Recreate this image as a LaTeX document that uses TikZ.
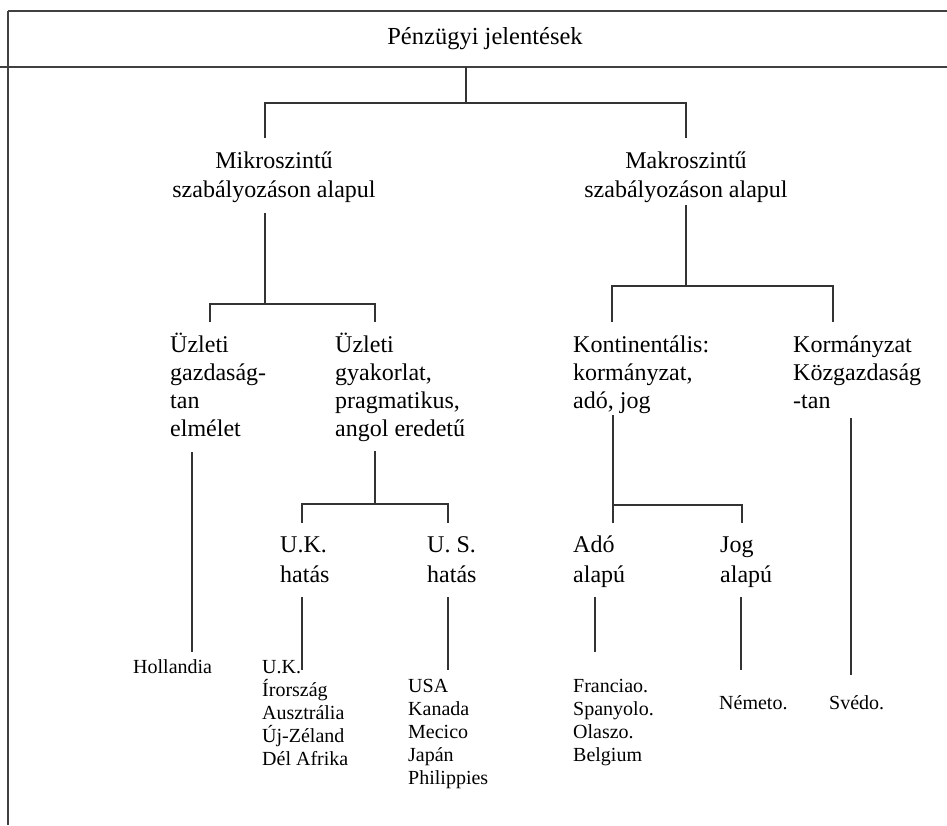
\documentclass[tikz,border=0pt]{standalone}
\usepackage{fontspec}
\setmainfont{Liberation Serif}
\begin{document}
\begin{tikzpicture}[x=1pt,y=-1pt,
  frameline/.style={draw=black!75, line width=1.6pt},
  treeline/.style={draw=black!80, line width=1.1pt},
  headtext/.style={inner sep=0pt, anchor=base, font=\fontsize{24.5}{30}\selectfont},
  midtext/.style={inner sep=0pt, anchor=base, align=center, font=\fontsize{24}{29}\selectfont},
  branchtext/.style={inner sep=0pt, anchor=base west, align=left, font=\fontsize{24}{28}\selectfont},
  effecttext/.style={inner sep=0pt, anchor=base west, align=left, font=\fontsize{24}{30}\selectfont},
  leaftext/.style={inner sep=0pt, anchor=base west, align=left, font=\fontsize{20}{23}\selectfont}]
\useasboundingbox (0,0) rectangle (947,825);

% header band
\draw[frameline] (8,11) -- (947,11);
\draw[frameline] (0,67) -- (947,67);
\draw[frameline] (8,11) -- (8,825);
\node[headtext] (hdr) at (485,44) {Pénzügyi jelentések};

% first level (anchored on the baseline of the last line)
\node[midtext] (mikro) at (274,197) {Mikroszintű\\szabályozáson alapul};
\node[midtext] (makro) at (686,197) {Makroszintű\\szabályozáson alapul};

% second level
\node[branchtext] (uzg)  at (170,436) {Üzleti\\gazdaság-\\tan\\elmélet};
\node[branchtext] (uzp)  at (335,436) {Üzleti\\gyakorlat,\\pragmatikus,\\angol eredetű};
\node[branchtext] (kont) at (573,408) {Kontinentális:\\kormányzat,\\adó, jog};
\node[branchtext] (korm) at (793,408) {Kormányzat\\Közgazdaság\\-tan};

% third level
\node[effecttext] (ukh) at (280,582) {U.K.\\hatás};
\node[effecttext] (ush) at (427,582) {U. S.\\hatás};
\node[effecttext] (ado) at (573,582) {Adó\\alapú};
\node[effecttext] (jog) at (720,582) {Jog\\alapú};

% countries
\node[leaftext] (hol) at (133,673) {Hollandia};
\node[leaftext] (ukl) at (262,765) {U.K.\\Írország\\Ausztrália\\Új-Zéland\\Dél Afrika};
\node[leaftext] (usl) at (408,784) {USA\\Kanada\\Mecico\\Japán\\Philippies};
\node[leaftext] (frl) at (573,761) {Franciao.\\Spanyolo.\\Olaszo.\\Belgium};
\node[leaftext] (nem) at (719,709) {Németo.};
\node[leaftext] (sve) at (829,709) {Svédo.};

% junction points
\coordinate (r0) at (466,67);  \coordinate (r1) at (466,103);
\coordinate (r2) at (265,103); \coordinate (r3) at (686,103);
\coordinate (mi0) at (265,138); \coordinate (ma0) at (686,138);
\coordinate (mi1) at (265,213); \coordinate (mi2) at (265,304);
\coordinate (mi3) at (210,304); \coordinate (mi4) at (375,304);
\coordinate (mi5) at (210,322); \coordinate (mi6) at (375,322);
\coordinate (ma1) at (686,205); \coordinate (ma2) at (686,286);
\coordinate (ma3) at (612,286); \coordinate (ma4) at (833,286);
\coordinate (ma5) at (612,322); \coordinate (ma6) at (833,322);
\coordinate (g0) at (192,452); \coordinate (g1) at (192,652);
\coordinate (p0) at (375,451); \coordinate (p1) at (375,504);
\coordinate (p2) at (302,504); \coordinate (p3) at (448,504);
\coordinate (p4) at (302,523); \coordinate (p5) at (448,523);
\coordinate (k0) at (613,415); \coordinate (k1) at (613,505);
\coordinate (k2) at (742,505); \coordinate (k3) at (613,523);
\coordinate (k4) at (742,523);
\coordinate (c0) at (851,418); \coordinate (c1) at (851,675);
\coordinate (u0) at (302,597); \coordinate (u1) at (302,670);
\coordinate (s0) at (448,597); \coordinate (s1) at (448,670);
\coordinate (a0) at (595,597); \coordinate (a1) at (595,652);
\coordinate (j0) at (741,597); \coordinate (j1) at (741,670);

% connectors
\draw[treeline] (r0) -- (r1);
\draw[treeline] (mi0) -- (r2) -- (r3) -- (ma0);
\draw[treeline] (mi1) -- (mi2);
\draw[treeline] (mi5) -- (mi3) -- (mi4) -- (mi6);
\draw[treeline] (ma1) -- (ma2);
\draw[treeline] (ma5) -- (ma3) -- (ma4) -- (ma6);
\draw[treeline] (g0) -- (g1);
\draw[treeline] (p0) -- (p1);
\draw[treeline] (p4) -- (p2) -- (p3) -- (p5);
\draw[treeline] (k0) -- (k3);
\draw[treeline] (k1) -- (k2) -- (k4);
\draw[treeline] (c0) -- (c1);
\draw[treeline] (u0) -- (u1);
\draw[treeline] (s0) -- (s1);
\draw[treeline] (a0) -- (a1);
\draw[treeline] (j0) -- (j1);
\end{tikzpicture}
\end{document}
